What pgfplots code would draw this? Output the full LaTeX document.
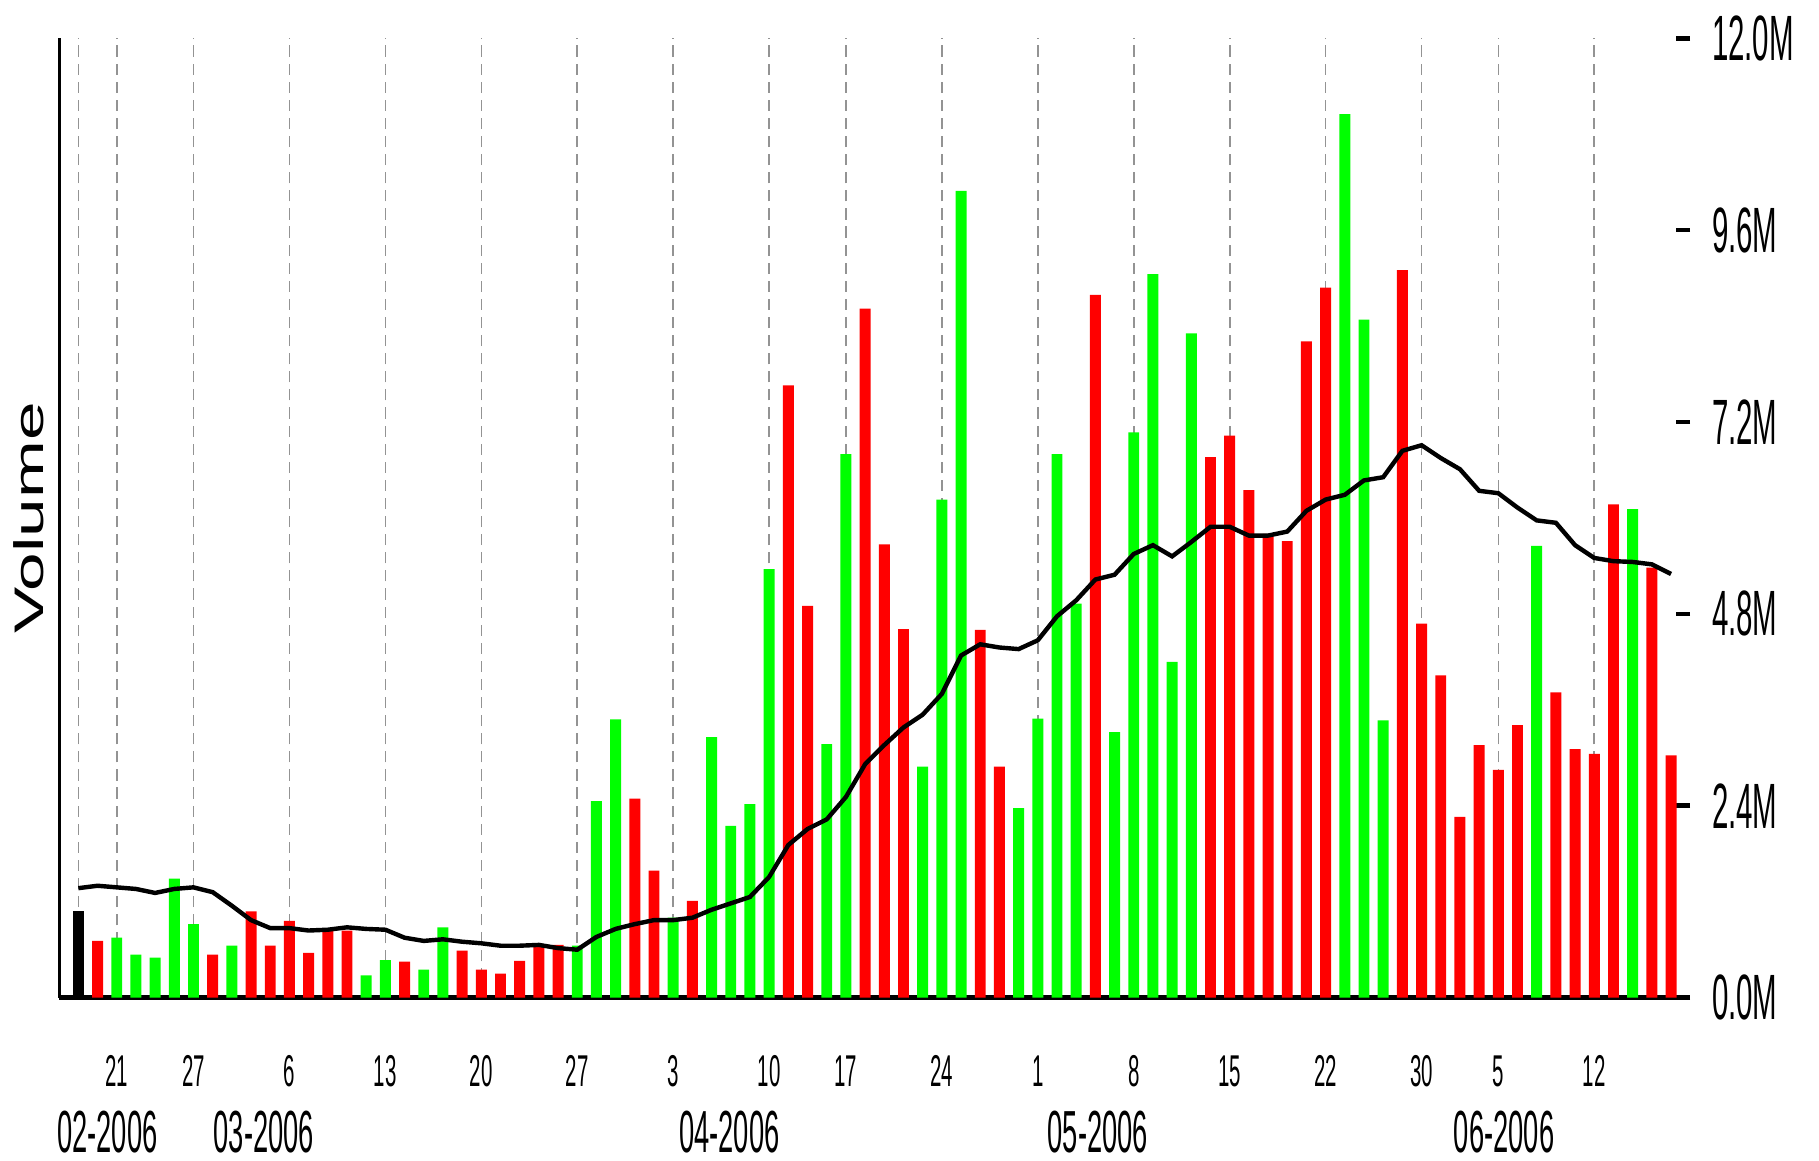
\documentclass[border=0pt]{standalone}
\usepackage{fontspec}
\setmainfont{Liberation Sans}
\newfontfamily\cond[FakeStretch=0.46]{Liberation Sans}
\usepackage{graphicx}
\usepackage{pgfplots}
\pgfplotsset{compat=1.18}

\definecolor{upgreen}{RGB}{0,255,0}
\definecolor{dnred}{RGB}{255,0,0}

\pgfplotsset{vbar/.style={ybar, bar width=0.57, bar shift=0pt, draw=none}}
\tikzset{month/.style={anchor=north, inner sep=0pt, yshift=-24.3pt,
  font=\cond\fontsize{12.8}{14}\selectfont}}

\begin{document}
\begin{tikzpicture}
\begin{axis}[
  at={(0,0)}, anchor=south west,
  scale only axis, width=351.5pt, height=206.75pt,
  xmin=-1, xmax=84, ymin=0, ymax=12,
  clip=false,
  axis x line*=bottom, axis y line*=right,
  x axis line style={-, line width=1.1pt},
  y axis line style={draw=none},
  xtick={0,2,6,11,16,21,26,31,36,40,45,50,55,60,65,70,74,79},
  xticklabels={,21,27,6,13,20,27,3,10,17,24,1,8,15,22,30,5,12},
  xtick style={draw=none},
  xmajorgrids,
  grid style={gray!85, line width=0.35pt, dash pattern=on 2.4pt off 1.5pt},
  xticklabel style={font=\cond\fontsize{9.6}{10}\selectfont,
    anchor=north, inner sep=0pt, yshift=-12.3pt},
  ytick={0,2.4,4.8,7.2,9.6,12},
  yticklabels={0.0M,2.4M,4.8M,7.2M,9.6M,12.0M},
  yticklabel style={font=\cond\fontsize{13.8}{15}\selectfont,
    anchor=west, inner sep=0pt, xshift=4.5pt},
  ytick style={black, line width=1pt},
  tick align=inside, major tick length=3pt,
]
% first bar (no previous close)
\addplot[vbar, fill=black] coordinates {(0,1.08)};

% down days
\addplot[vbar, fill=dnred] coordinates {
  (1,0.71) (7,0.54) (9,1.08) (10,0.65) (11,0.96) (12,0.56) (13,0.84) (14,0.84)
  (17,0.45) (20,0.59) (21,0.35) (22,0.30) (23,0.46) (24,0.66) (25,0.66)
  (29,2.49) (30,1.59) (32,1.21) (37,7.66) (38,4.90) (41,8.62) (42,5.67) (43,4.61)
  (47,4.60) (48,2.89) (53,8.79)
  (59,6.76) (60,7.03) (61,6.35) (62,5.80) (63,5.71) (64,8.21) (65,8.88)
  (69,9.10) (70,4.68) (71,4.03) (72,2.26) (73,3.16) (74,2.85) (75,3.41)
  (77,3.82) (78,3.11) (79,3.05) (80,6.17) (82,5.38) (83,3.03)
};

% up days
\addplot[vbar, fill=upgreen] coordinates {
  (2,0.75) (3,0.54) (4,0.50) (5,1.49) (6,0.92) (8,0.65) (15,0.28) (16,0.47)
  (18,0.35) (19,0.88) (26,0.65) (27,2.46) (28,3.48) (31,1.00) (33,3.26)
  (34,2.15) (35,2.42) (36,5.36) (39,3.17) (40,6.80) (44,2.89) (45,6.23)
  (46,10.09) (49,2.37) (50,3.49) (51,6.80) (52,4.93) (54,3.32) (55,7.07)
  (56,9.05) (57,4.20) (58,8.31) (66,11.05) (67,8.48) (68,3.47) (76,5.65)
  (81,6.11)
};

% moving average of volume
\addplot[black, line width=0.95pt, mark=none] coordinates {
  (0,1.37) (1,1.40) (2,1.38) (3,1.36) (4,1.31) (5,1.36) (6,1.38) (7,1.32)
  (8,1.15) (9,0.97) (10,0.87) (11,0.87) (12,0.84) (13,0.85) (14,0.88)
  (15,0.86) (16,0.85) (17,0.75) (18,0.71) (19,0.73) (20,0.70) (21,0.68)
  (22,0.65) (23,0.65) (24,0.66) (25,0.62) (26,0.60) (27,0.76) (28,0.86)
  (29,0.92) (30,0.97) (31,0.97) (32,1.00) (33,1.10) (34,1.18) (35,1.26)
  (36,1.51) (37,1.91) (38,2.11) (39,2.23) (40,2.51) (41,2.92) (42,3.16)
  (43,3.38) (44,3.54) (45,3.80) (46,4.28) (47,4.42) (48,4.38) (49,4.36)
  (50,4.47) (51,4.77) (52,4.97) (53,5.23) (54,5.29) (55,5.55) (56,5.66)
  (57,5.52) (58,5.70) (59,5.89) (60,5.89) (61,5.78) (62,5.78) (63,5.83)
  (64,6.09) (65,6.23) (66,6.29) (67,6.47) (68,6.51) (69,6.84) (70,6.91)
  (71,6.75) (72,6.61) (73,6.34) (74,6.31) (75,6.13) (76,5.97) (77,5.94)
  (78,5.66) (79,5.50) (80,5.46) (81,5.45) (82,5.42) (83,5.30)
};

% left frame line
\draw[black, line width=0.7pt] (rel axis cs:0,0) -- (rel axis cs:0,1);

% month labels
\node[month] at (axis cs:1.51,0) {02-2006};
\node[month] at (axis cs:9.67,0) {03-2006};
\node[month] at (axis cs:33.93,0) {04-2006};
\node[month] at (axis cs:53.13,0) {05-2006};
\node[month] at (axis cs:74.3,0) {06-2006};

\node[rotate=90, inner sep=0pt, font=\fontsize{8.9}{10}\selectfont]
  at ([xshift=-6.5pt]rel axis cs:0,0.5) {\scalebox{1.68}[1]{Volume}};
\end{axis}
\pgfresetboundingbox
\path[use as bounding box] (-12.75pt,-35pt) rectangle (379.25pt,215pt);
\end{tikzpicture}
\end{document}
